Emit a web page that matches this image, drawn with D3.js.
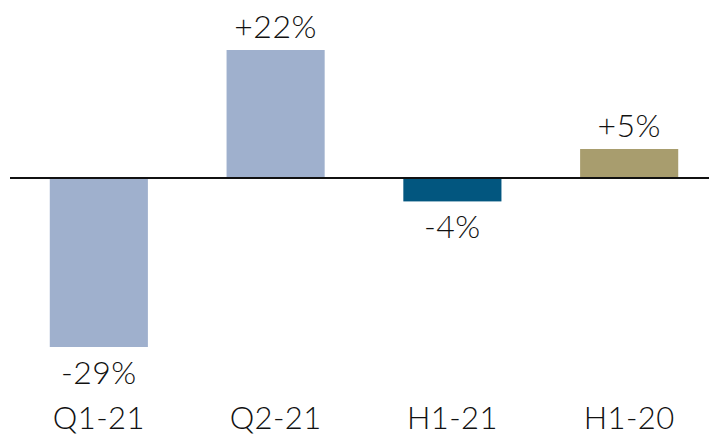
<!DOCTYPE html>
<html>
<head>
<meta charset="utf-8">
<script src="https://cdn.jsdelivr.net/npm/d3@7/dist/d3.min.js"></script>
<style>
  html, body { margin: 0; padding: 0; background: #fff; }
  svg { display: block; }
  text { font-family: Lato, "Open Sans", sans-serif; font-weight: 300; fill: #111; }
</style>
</head>
<body>
<svg id="chart" width="709" height="436"></svg>
<script>
// Period-over-period change, in percent
const categories = ["Q1-21", "Q2-21", "H1-21", "H1-20"];
const values = [-29, 22, -4, 5];
const valueLabels = ["-29%", "+22%", "-4%", "+5%"];
const barColors = ["#9fb0cd", "#9fb0cd", "#02567f", "#a89d6e"];

const svg = d3.select("#chart");

const x = d3.scaleBand()
  .domain(categories)
  .range([10, 718])
  .paddingInner(0.445)
  .paddingOuter(0.225);

const y = d3.scaleLinear()
  .domain([-29, 22])
  .range([347, 50]);

const data = categories.map((c, i) => ({
  cat: c, value: values[i], label: valueLabels[i], color: barColors[i]
}));

// Bars grow from the zero line
svg.append("g")
  .selectAll("rect")
  .data(data)
  .join("rect")
  .attr("x", d => x(d.cat))
  .attr("width", x.bandwidth())
  .attr("y", d => Math.min(y(0), y(d.value)))
  .attr("height", d => Math.abs(y(d.value) - y(0)))
  .attr("fill", d => d.color);

// Zero line
svg.append("line")
  .attr("x1", 10)
  .attr("x2", 709)
  .attr("y1", y(0))
  .attr("y2", y(0))
  .attr("stroke", "#111")
  .attr("stroke-width", 2);

// Value labels above positive bars, below negative ones
svg.append("g")
  .selectAll("text")
  .data(data)
  .join("text")
  .attr("x", d => x(d.cat) + x.bandwidth() / 2)
  .attr("y", d => d.value >= 0 ? y(d.value) - 12 : y(d.value) + 37)
  .attr("text-anchor", "middle")
  .style("font-size", "32px")
  .style("letter-spacing", "0.5px")
  .text(d => d.label);

// Category axis along the bottom
const xAxis = d3.axisBottom(x).tickSize(0).tickPadding(0);
const gx = svg.append("g")
  .attr("transform", "translate(0,429)")
  .call(xAxis);
gx.select(".domain").remove();
gx.selectAll("text")
  .attr("y", 0)
  .attr("dy", 0)
  .style("font-size", "31px")
  .style("letter-spacing", "0.4px")
  .style("font-family", "Lato, 'Open Sans', sans-serif")
  .style("font-weight", 300)
  .attr("fill", "#111");
</script>
</body>
</html>
